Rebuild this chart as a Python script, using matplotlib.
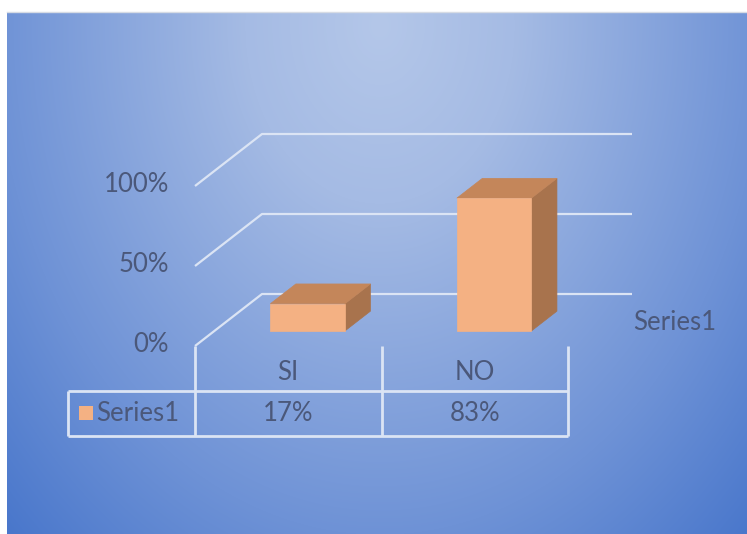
import numpy as np
import matplotlib.pyplot as plt
from matplotlib.patches import Polygon, Rectangle

# Chart data
categories = ['SI', 'NO']
values = [0.17, 0.83]
value_labels = ['17%', '83%']
series_name = 'Series1'
y_ticks = [0.0, 0.5, 1.0]
y_tick_labels = ['0%', '50%', '100%']

# 3D projection settings (pixel space)
X0, Y0 = 195, 346          # front-left corner of the floor
CAT_W = 186.5              # width of one category slot
V_SCALE = 160              # pixels per 100%
DX, DY = 67, -52           # offset from front to back wall
BAR_HALF = 0.2
D_FRONT, D_BACK = 0.29, 0.67

TEXT = '#4b587a'
GRID = '#dbe4f4'
FRONT = '#f4b183'
TOP = '#c4865a'
SIDE = '#a8734d'
FONT = 'Lato'
FS = 18.5


def proj(c, d, v):
    return X0 + c * CAT_W + d * DX, Y0 + d * DY - v * V_SCALE


fig = plt.figure(figsize=(7.47, 5.34), dpi=100)
fig.patch.set_facecolor('white')
ax = fig.add_axes([0, 0, 1, 1])
ax.set_xlim(0, 747)
ax.set_ylim(534, 0)
ax.axis('off')

# radial gradient background, brightest near the top centre
W, H = 740, 522
xx, yy = np.meshgrid(np.linspace(7, 747, W), np.linspace(12, 534, H))
r = np.sqrt(((xx - 380) / 385) ** 2 + ((yy - 25) / 510) ** 2)
stops = np.array([0.0, 0.35, 1.0, 1.4])
cols = np.array([[180, 199, 233], [165, 187, 228], [110, 146, 214], [72, 118, 203]]) / 255
img = np.stack([np.interp(r, stops, cols[:, k]) for k in range(3)], axis=-1)
ax.imshow(img, extent=(7, 747, 534, 12), aspect='auto', zorder=0)
ax.plot([7, 747], [12, 12], color='#d6dbe4', lw=1, zorder=1)

# gridlines on the side and back walls
for v, lab in zip(y_ticks, y_tick_labels):
    p0, p1, p2 = proj(0, 0, v), proj(0, 1, v), proj(2, 1, v)
    ax.plot([p0[0], p1[0], p2[0] - 3], [p0[1], p1[1], p2[1]], color=GRID, lw=1.6,
            solid_capstyle='butt', zorder=2)
    ax.text(169, p0[1] - 1, lab, ha='right', va='center', fontsize=FS,
            family=FONT, color=TEXT, zorder=3)

# depth axis label
lx, ly = proj(2, 0.5, 0)
ax.text(proj(2, 1, 0)[0] - 2, ly + 2, series_name, ha='left', va='center',
        fontsize=FS, family=FONT, color=TEXT, zorder=3)

# 3D columns
for i, v in enumerate(values):
    cl, cr = i + 0.5 - BAR_HALF, i + 0.5 + BAR_HALF
    front = [proj(cl, D_FRONT, 0), proj(cr, D_FRONT, 0), proj(cr, D_FRONT, v), proj(cl, D_FRONT, v)]
    top = [proj(cl, D_FRONT, v), proj(cr, D_FRONT, v), proj(cr, D_BACK, v), proj(cl, D_BACK, v)]
    side = [proj(cr, D_FRONT, 0), proj(cr, D_BACK, 0), proj(cr, D_BACK, v), proj(cr, D_FRONT, v)]
    for pts, col in ((side, SIDE), (top, TOP), (front, FRONT)):
        ax.add_patch(Polygon(pts, closed=True, facecolor=col, edgecolor=col, lw=0.5, zorder=4))

# data table below the plot
T_LEFT, T_TOP, T_BOT = 68, 391, 436
tbl = dict(color=GRID, lw=2, solid_capstyle='butt', zorder=3)
x_right = proj(len(categories), 0, 0)[0]
for c in range(len(categories) + 1):
    xc = proj(c, 0, 0)[0]
    ax.plot([xc, xc], [Y0, T_BOT], **tbl)
ax.plot([T_LEFT, T_LEFT], [T_TOP, T_BOT], **tbl)
ax.plot([T_LEFT, x_right], [T_TOP, T_TOP], **tbl)
ax.plot([T_LEFT, x_right], [T_BOT, T_BOT], **tbl)

row_y = (T_TOP + T_BOT) / 2
for i, (cat, lab) in enumerate(zip(categories, value_labels)):
    xc = proj(i + 0.5, 0, 0)[0]
    ax.text(xc, 372, cat, ha='center', va='center', fontsize=FS, family=FONT, color=TEXT, zorder=3)
    ax.text(xc, row_y, lab, ha='center', va='center', fontsize=FS, family=FONT, color=TEXT, zorder=3)

ax.add_patch(Rectangle((79, 406), 14, 14, facecolor=FRONT, edgecolor='none', zorder=3))
ax.text(96, row_y, series_name, ha='left', va='center', fontsize=FS, family=FONT,
        color=TEXT, zorder=3)

fig.savefig('out.png', dpi=100)
